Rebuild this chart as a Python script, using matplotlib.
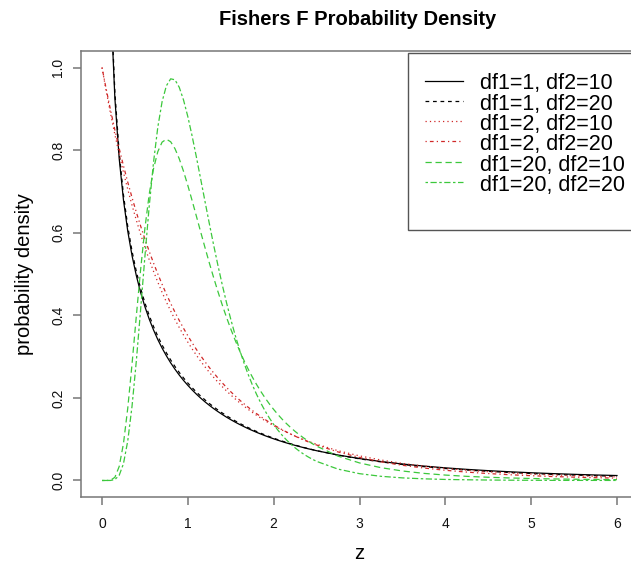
import numpy as np
import matplotlib
matplotlib.use("Agg")
import matplotlib.pyplot as plt
from matplotlib.patches import Rectangle
from matplotlib.lines import Line2D

plt.rcParams['font.family'] = ['Liberation Sans', 'DejaVu Sans']

# ---- data: F density values read at these z positions ----
z = [0.00, 0.05, 0.10, 0.15, 0.20, 0.25, 0.30, 0.35, 0.40, 0.45,
     0.50, 0.55, 0.60, 0.65, 0.70, 0.75, 0.80, 0.85, 0.90, 0.95,
     1.00, 1.05, 1.10, 1.15, 1.20, 1.25, 1.30, 1.35, 1.40, 1.45,
     1.50, 1.55, 1.60, 1.65, 1.70, 1.75, 1.80, 1.85, 1.90, 1.95,
     2.00, 2.05, 2.10, 2.15, 2.20, 2.25, 2.30, 2.35, 2.40, 2.45,
     2.50, 2.75, 3.00, 3.25, 3.50, 3.75, 4.00, 4.25, 4.50, 4.75,
     5.00, 5.25, 5.50, 5.75, 6.00]

d_1_10 = [np.nan, 1.6931, 1.1649, 0.9257, 0.7803, 0.6794, 0.6038, 0.5443, 0.4959, 0.4553,
          0.4208, 0.3908, 0.3646, 0.3413, 0.3206, 0.3019, 0.2849, 0.2695, 0.2553, 0.2423,
          0.2304, 0.2193, 0.2090, 0.1994, 0.1904, 0.1821, 0.1742, 0.1669, 0.1600, 0.1534,
          0.1473, 0.1415, 0.1360, 0.1308, 0.1258, 0.1212, 0.1167, 0.1125, 0.1084, 0.1046,
          0.1009, 0.0974, 0.0941, 0.0909, 0.0879, 0.0850, 0.0822, 0.0795, 0.0769, 0.0745,
          0.0721, 0.0617, 0.0531, 0.0459, 0.0399, 0.0349, 0.0306, 0.0269, 0.0238, 0.0211,
          0.0187, 0.0167, 0.0149, 0.0133, 0.0120]

d_1_20 = [np.nan, 1.7164, 1.1823, 0.9405, 0.7936, 0.6916, 0.6152, 0.5551, 0.5060, 0.4650,
          0.4299, 0.3996, 0.3729, 0.3493, 0.3281, 0.3091, 0.2918, 0.2760, 0.2616, 0.2483,
          0.2360, 0.2247, 0.2141, 0.2043, 0.1951, 0.1865, 0.1784, 0.1708, 0.1636, 0.1569,
          0.1505, 0.1445, 0.1388, 0.1334, 0.1283, 0.1234, 0.1188, 0.1144, 0.1102, 0.1062,
          0.1024, 0.0988, 0.0953, 0.0920, 0.0888, 0.0858, 0.0828, 0.0800, 0.0774, 0.0748,
          0.0723, 0.0614, 0.0524, 0.0450, 0.0387, 0.0335, 0.0290, 0.0253, 0.0221, 0.0193,
          0.0169, 0.0149, 0.0131, 0.0116, 0.0102]

d_2_10 = [1.0000, 0.9420, 0.8880, 0.8375, 0.7903, 0.7462, 0.7050, 0.6663, 0.6302, 0.5963,
          0.5645, 0.5346, 0.5066, 0.4803, 0.4556, 0.4323, 0.4104, 0.3898, 0.3704, 0.3521,
          0.3349, 0.3186, 0.3033, 0.2888, 0.2751, 0.2621, 0.2499, 0.2383, 0.2274, 0.2170,
          0.2072, 0.1979, 0.1890, 0.1807, 0.1727, 0.1652, 0.1580, 0.1512, 0.1448, 0.1386,
          0.1328, 0.1273, 0.1220, 0.1169, 0.1122, 0.1076, 0.1032, 0.0991, 0.0952, 0.0914,
          0.0878, 0.0721, 0.0596, 0.0496, 0.0414, 0.0348, 0.0294, 0.0249, 0.0213, 0.0182,
          0.0156, 0.0135, 0.0117, 0.0101, 0.0088]

d_2_20 = [1.0000, 0.9466, 0.8963, 0.8489, 0.8043, 0.7621, 0.7224, 0.6849, 0.6496, 0.6162,
          0.5847, 0.5549, 0.5268, 0.5002, 0.4751, 0.4513, 0.4289, 0.4076, 0.3875, 0.3685,
          0.3505, 0.3334, 0.3173, 0.3020, 0.2875, 0.2737, 0.2607, 0.2483, 0.2366, 0.2255,
          0.2149, 0.2049, 0.1954, 0.1864, 0.1778, 0.1697, 0.1619, 0.1546, 0.1476, 0.1409,
          0.1346, 0.1286, 0.1228, 0.1174, 0.1122, 0.1073, 0.1026, 0.0981, 0.0938, 0.0898,
          0.0859, 0.0691, 0.0558, 0.0453, 0.0368, 0.0301, 0.0247, 0.0203, 0.0168, 0.0139,
          0.0116, 0.0096, 0.0081, 0.0068, 0.0057]

d_20_10 = [0.0000, 0.0000, 0.0007, 0.0077, 0.0337, 0.0893, 0.1750, 0.2822, 0.3983, 0.5109,
           0.6110, 0.6930, 0.7547, 0.7962, 0.8193, 0.8264, 0.8202, 0.8036, 0.7790, 0.7486,
           0.7144, 0.6777, 0.6398, 0.6016, 0.5639, 0.5271, 0.4917, 0.4578, 0.4257, 0.3954,
           0.3670, 0.3404, 0.3156, 0.2925, 0.2710, 0.2511, 0.2327, 0.2157, 0.1999, 0.1854,
           0.1720, 0.1596, 0.1481, 0.1376, 0.1278, 0.1188, 0.1105, 0.1029, 0.0958, 0.0892,
           0.0832, 0.0590, 0.0425, 0.0310, 0.0230, 0.0172, 0.0131, 0.0100, 0.0078, 0.0061,
           0.0048, 0.0038, 0.0031, 0.0025, 0.0020]

d_20_20 = [0.0000, 0.0000, 0.0001, 0.0022, 0.0123, 0.0406, 0.0957, 0.1801, 0.2894, 0.4141,
           0.5426, 0.6640, 0.7701, 0.8553, 0.9172, 0.9558, 0.9726, 0.9703, 0.9521, 0.9213,
           0.8810, 0.8341, 0.7829, 0.7296, 0.6757, 0.6225, 0.5708, 0.5215, 0.4748, 0.4311,
           0.3905, 0.3530, 0.3186, 0.2871, 0.2584, 0.2324, 0.2089, 0.1876, 0.1684, 0.1512,
           0.1356, 0.1217, 0.1092, 0.0980, 0.0880, 0.0790, 0.0709, 0.0637, 0.0573, 0.0515,
           0.0463, 0.0275, 0.0165, 0.0101, 0.0063, 0.0040, 0.0025, 0.0017, 0.0011, 0.0007,
           0.0005, 0.0003, 0.0002, 0.0002, 0.0001]

labels = ["df1=1, df2=10", "df1=1, df2=20", "df1=2, df2=10",
          "df1=2, df2=20", "df1=20, df2=10", "df1=20, df2=20"]
series = [d_1_10, d_1_20, d_2_10, d_2_20, d_20_10, d_20_20]

xticks = [0, 1, 2, 3, 4, 5, 6]
yticks = [0.0, 0.2, 0.4, 0.6, 0.8, 1.0]
ytick_labels = ["0.0", "0.2", "0.4", "0.6", "0.8", "1.0"]

# ---- styling ----
colors = ["black", "black", "#d02828", "#d02828", "#3cc83c", "#3cc83c"]
dashes = [None, (3, 3), (1, 2.5), (1, 2.5, 3, 2.5), (5, 3), (2, 2, 5, 2)]

W, H = 631, 565
fig = plt.figure(figsize=(W / 100, H / 100), dpi=100)
L, R, T, B = 81.4, 637.6, 51.0, 497.0
ax = fig.add_axes([L / W, 1 - B / H, (R - L) / W, (B - T) / H])

for vals, c, d, lab in zip(series, colors, dashes, labels):
    ln, = ax.plot(z, vals, color=c, lw=0.9, label=lab)
    if d is not None:
        ln.set_dashes(d)

ax.set_xlim(-0.24, 6.24)
ax.set_ylim(-0.04, 1.04)
ax.set_xticks(xticks)
ax.set_xticklabels([str(t) for t in xticks])
ax.set_yticks(yticks)
ax.set_yticklabels(ytick_labels, rotation=90, va="center")

axcol = "#777777"
for s in ax.spines.values():
    s.set_color(axcol)
    s.set_linewidth(1.1)
ax.tick_params(axis="both", direction="out", length=5.5, width=1.1,
               color=axcol, labelsize=10, labelcolor="#111111")
ax.tick_params(axis="x", pad=9)
ax.tick_params(axis="y", pad=6)

ax.text(0.497, 1.0583, "Fishers F Probability Density", transform=ax.transAxes,
        ha="center", va="baseline", fontsize=14.5, fontweight="bold")
ax.set_xlabel("z", fontsize=14.5)
ax.xaxis.set_label_coords(0.499, -0.1397)
ax.xaxis.label.set_va("baseline")
ax.set_ylabel("probability density", fontsize=14.5)
ax.yaxis.set_label_coords(-0.103, 0.5)
ax.yaxis.label.set_va("center")

# ---- legend (R style, top right) ----
def fx(px):
    return px / W

def fy(py):
    return 1 - py / H

fig.patches.append(Rectangle((fx(408), fy(230)), fx(640) - fx(408), fy(53) - fy(230),
                             transform=fig.transFigure, fill=True, facecolor="white",
                             edgecolor="#555555", lw=1.0, zorder=5))
row0, pitch = 80.5, 20.3
for i, (c, d, lab) in enumerate(zip(colors, dashes, labels)):
    y = row0 + i * pitch
    ln = Line2D([fx(425), fx(463)], [fy(y), fy(y)], transform=fig.transFigure,
                color=c, lw=0.9, zorder=6)
    if d is not None:
        ln.set_dashes(d)
    fig.lines.append(ln)
    fig.text(fx(480), fy(y + 9), lab, fontsize=15.5, ha="left", va="baseline", zorder=6)

fig.savefig("out.png", dpi=100)
